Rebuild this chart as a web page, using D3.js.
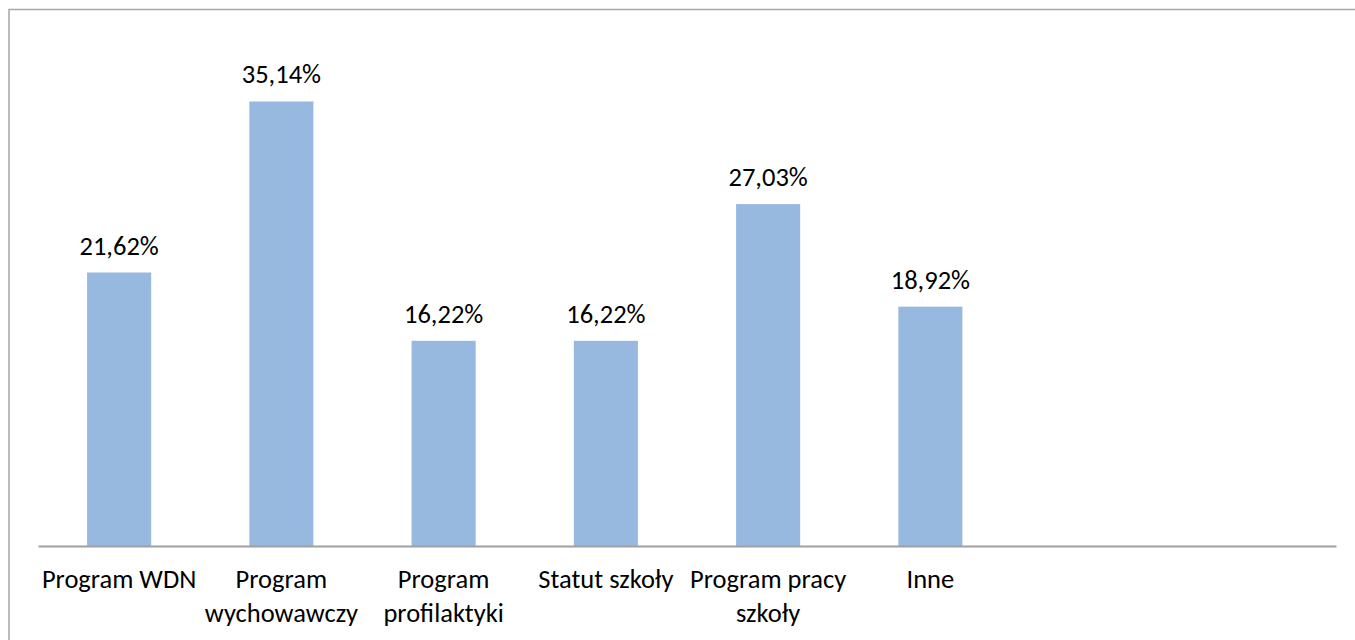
<!DOCTYPE html>
<html><head><meta charset="utf-8">
<script src="https://cdn.jsdelivr.net/npm/d3@7"></script>
<style>body{margin:0;background:#fff}svg{display:block}text{font-family:Carlito,Lato,"Open Sans",sans-serif;fill:#000}</style>
</head><body><svg id="c" width="1355" height="640"></svg>
<script>
const categories = ["Program WDN","Program wychowawczy","Program profilaktyki","Statut szkoły","Program pracy szkoły","Inne","",""];
const values = [21.62,35.14,16.22,16.22,27.03,18.92,null,null];
const valueLabels = ["21,62%","35,14%","16,22%","16,22%","27,03%","18,92%","",""];

const FS = 26.5;
const svg = d3.select("#c");
svg.append("rect").attr("x",9).attr("y",9.5).attr("width",1400).attr("height",700)
  .attr("fill","#fff").attr("stroke","#a6a6a6").attr("stroke-width",1.5);

const x = d3.scaleBand().domain(d3.range(categories.length)).range([38,1336]).paddingInner(0.605).paddingOuter(0.3025);
const y = d3.scaleLinear().domain([0,40]).range([546,40]);

const data = categories.map((c,i)=>({c,v:values[i],l:valueLabels[i],i})).filter(d=>d.v!=null);

svg.selectAll("rect.bar").data(data).join("rect").attr("class","bar")
  .attr("x",d=>x(d.i)).attr("width",x.bandwidth())
  .attr("y",d=>y(d.v)).attr("height",d=>y(0)-y(d.v)).attr("fill","#98b9df");

svg.selectAll("text.val").data(data).join("text").attr("class","val")
  .attr("x",d=>x(d.i)+x.bandwidth()/2).attr("y",d=>y(d.v)-18)
  .attr("text-anchor","middle").attr("font-size",FS).text(d=>d.l);

const axis = d3.axisBottom(x).tickSize(0).tickFormat(()=> "");
const ag = svg.append("g").attr("transform","translate(0,546)").call(axis);
ag.select(".domain").attr("stroke","#a0a0a0").attr("stroke-width",2);

const maxW = 160;
data.forEach(d=>{
  const cx = x(d.i)+x.bandwidth()/2;
  const t = svg.append("text").attr("text-anchor","middle").attr("font-size",FS)
    .attr("x",cx).attr("y",588);
  const words = d.c.split(" ");
  let line=[];
  let ts = t.append("tspan").attr("x",cx).attr("dy",0);
  words.forEach(w=>{
    line.push(w); ts.text(line.join(" "));
    if (ts.node().getComputedTextLength()>maxW && line.length>1){
      line.pop(); ts.text(line.join(" ")); line=[w];
      ts = t.append("tspan").attr("x",cx).attr("dy",34).text(w);
    }
  });
});
</script></body></html>
